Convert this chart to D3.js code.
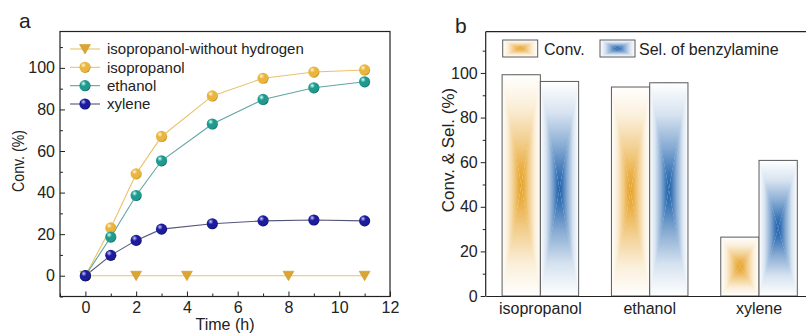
<!DOCTYPE html>
<html><head><meta charset="utf-8">
<script src="https://cdn.jsdelivr.net/npm/d3@7"></script>
<style>body{margin:0;background:#fff}svg{display:block;font-family:"Liberation Sans",Arial,sans-serif}</style>
</head><body>
<svg id="c" width="806" height="334"></svg>
<script>
// ---- Panel a data ----
const timesNoH2 = [0, 2, 4, 8, 11];
const convNoH2 = [0, 0, 0, 0, 0];
const times = [0, 1, 2, 3, 5, 7, 9, 11];
const convIsopropanol = [0, 23, 49, 67, 86.5, 95, 98, 99];
const convEthanol = [0, 18.6, 38.6, 55.3, 73, 84.8, 90.4, 93.3];
const convXylene = [0, 9.8, 17, 22.4, 25, 26.4, 26.8, 26.4];
const seriesNamesA = ["isopropanol-without hydrogen", "isopropanol", "ethanol", "xylene"];
const xTicksA = [0, 2, 4, 6, 8, 10, 12];
const yTicksA = [0, 20, 40, 60, 80, 100];
// ---- Panel b data ----
const solvents = ["isopropanol", "ethanol", "xylene"];
const convB = [99.2, 93.7, 26.4];
const selB = [96.2, 95.6, 60.8];
const seriesNamesB = ["Conv.", "Sel. of benzylamine"];
const yTicksB = [0, 20, 40, 60, 80, 100];

const svg = d3.select("#c");
const defs = svg.append("defs");
const txt = "#222";

// sphere gradients
const sphereCols = {gold: ["#fff6d8", "#e9b53e", "#b07c10"], teal: ["#d8fff6", "#1f9a8e", "#0a5a52"], navy: ["#c8c8ff", "#1c1c9c", "#06064a"]};
Object.entries(sphereCols).forEach(([k, c]) => {
  const g = defs.append("radialGradient").attr("id", "sph-" + k).attr("cx", 0.38).attr("cy", 0.35).attr("r", 0.7).attr("fx", 0.35).attr("fy", 0.3);
  g.append("stop").attr("offset", 0).attr("stop-color", c[0]);
  g.append("stop").attr("offset", 0.35).attr("stop-color", c[1]);
  g.append("stop").attr("offset", 0.8).attr("stop-color", c[1]);
  g.append("stop").attr("offset", 1).attr("stop-color", c[2]);
});

// box gradients for bars
const ramp = [[0, 0], [0.3, 0.18], [0.6, 0.52], [0.85, 0.85], [1, 1]];
const barCols = {orange: "#e6a124", blue: "#1b5fab"};
Object.entries(barCols).forEach(([k, col]) => {
  const h = defs.append("linearGradient").attr("id", "h-" + k).attr("x1", 0).attr("x2", 1).attr("y1", 0).attr("y2", 0);
  ramp.forEach(([t, o]) => h.append("stop").attr("offset", t / 2).attr("stop-color", col).attr("stop-opacity", o));
  ramp.slice().reverse().forEach(([t, o]) => h.append("stop").attr("offset", 1 - t / 2).attr("stop-color", col).attr("stop-opacity", o));
  const vt = defs.append("linearGradient").attr("id", "vt-" + k).attr("x1", 0).attr("x2", 0).attr("y1", 0).attr("y2", 1);
  ramp.forEach(([t, o]) => vt.append("stop").attr("offset", t).attr("stop-color", col).attr("stop-opacity", o));
  const vb = defs.append("linearGradient").attr("id", "vb-" + k).attr("x1", 0).attr("x2", 0).attr("y1", 1).attr("y2", 0);
  ramp.forEach(([t, o]) => vb.append("stop").attr("offset", t).attr("stop-color", col).attr("stop-opacity", o));
});

function boxBar(g, x, y, w, h, k) {
  const cx = x + w / 2, cy = y + h / 2;
  g.append("rect").attr("x", x).attr("y", y).attr("width", w).attr("height", h).attr("fill", "#fff");
  g.append("rect").attr("x", x).attr("y", y).attr("width", w).attr("height", h).attr("fill", `url(#h-${k})`);
  g.append("polygon").attr("points", `${x},${y} ${x + w},${y} ${cx},${cy}`).attr("fill", "#fff");
  g.append("polygon").attr("points", `${x},${y} ${x + w},${y} ${cx},${cy}`).attr("fill", `url(#vt-${k})`);
  g.append("polygon").attr("points", `${x},${y + h} ${x + w},${y + h} ${cx},${cy}`).attr("fill", "#fff");
  g.append("polygon").attr("points", `${x},${y + h} ${x + w},${y + h} ${cx},${cy}`).attr("fill", `url(#vb-${k})`);
  g.append("rect").attr("x", x).attr("y", y).attr("width", w).attr("height", h).attr("fill", "none").attr("stroke", "#5a5a5a").attr("stroke-width", 1);
}

// ================= Panel a =================
const xA = d3.scaleLinear().domain([-1, 12]).range([60, 390]);
const yA = d3.scaleLinear().domain([-10, 117.5]).range([296.5, 31.5]);
const gA = svg.append("g");

const xAxisA = d3.axisBottom(xA).tickValues(xTicksA).tickSize(-5).tickPadding(5).tickFormat(d3.format("d"));
gA.append("g").attr("transform", `translate(0,${yA(-10)})`).call(xAxisA)
  .call(g => g.select(".domain").remove())
  .call(g => g.selectAll("text").attr("font-size", 16).attr("fill", txt).attr("font-family", "Liberation Sans, Arial"))
  .call(g => g.selectAll("line").attr("stroke", "#222"));
gA.append("g").attr("transform", `translate(0,${yA(-10)})`).call(d3.axisBottom(xA).tickValues(d3.range(-1, 12, 2)).tickSize(-3).tickFormat(""))
  .call(g => g.select(".domain").remove()).call(g => g.selectAll("line").attr("stroke", "#222"));
const yAxisA = d3.axisLeft(yA).tickValues(yTicksA).tickSize(-5).tickPadding(5);
gA.append("g").attr("transform", `translate(${xA(-1)},0)`).call(yAxisA)
  .call(g => g.select(".domain").remove())
  .call(g => g.selectAll("text").attr("font-size", 16).attr("fill", txt).attr("font-family", "Liberation Sans, Arial"))
  .call(g => g.selectAll("line").attr("stroke", "#222"));
gA.append("g").attr("transform", `translate(${xA(-1)},0)`).call(d3.axisLeft(yA).tickValues([-10, 10, 30, 50, 70, 90, 110]).tickSize(-3).tickFormat(""))
  .call(g => g.select(".domain").remove()).call(g => g.selectAll("line").attr("stroke", "#222"));
gA.append("rect").attr("x", xA(-1)).attr("y", yA(117.5)).attr("width", xA(12) - xA(-1)).attr("height", yA(-10) - yA(117.5))
  .attr("fill", "none").attr("stroke", "#222").attr("stroke-width", 1.2);

const line = d3.line().x(d => xA(d[0])).y(d => yA(d[1]));
const seriesA = [
  {name: seriesNamesA[0], xs: timesNoH2, ys: convNoH2, line: "#e8c46a", marker: "tri"},
  {name: seriesNamesA[1], xs: times, ys: convIsopropanol, line: "#e9c36a", marker: "gold"},
  {name: seriesNamesA[2], xs: times, ys: convEthanol, line: "#5fa5a2", marker: "teal"},
  {name: seriesNamesA[3], xs: times, ys: convXylene, line: "#55557a", marker: "navy"}
];
const triPath = "M-5.5,-4.5 L5.5,-4.5 L0,5 Z";
function drawMarker(g, x, y, m) {
  if (m === "tri") g.append("path").attr("d", triPath).attr("transform", `translate(${x},${y})`).attr("fill", "#dba534").attr("stroke", "#c99020").attr("stroke-width", 0.5);
  else g.append("circle").attr("cx", x).attr("cy", y).attr("r", 5.6).attr("fill", `url(#sph-${m})`);
}
seriesA.forEach(s => {
  const pts = s.xs.map((x, i) => [x, s.ys[i]]);
  gA.append("path").datum(pts).attr("d", line).attr("fill", "none").attr("stroke", s.line).attr("stroke-width", 1.1);
});
seriesA.forEach(s => {
  s.xs.forEach((x, i) => drawMarker(gA, xA(x), yA(s.ys[i]), s.marker));
});
// legend a
const legY = d3.scaleLinear().domain([0, 3]).range([49, 104]);
seriesA.forEach((s, i) => {
  const y = legY(i);
  gA.append("line").attr("x1", 70).attr("x2", 100).attr("y1", y).attr("y2", y).attr("stroke", s.line).attr("stroke-width", 1.1);
  drawMarker(gA, 85, y, s.marker);
  gA.append("text").attr("x", 107).attr("y", y + 5.3).attr("font-size", 15).attr("fill", txt).text(s.name);
});
gA.append("text").attr("x", 19).attr("y", 28).attr("font-size", 21).attr("fill", txt).text("a");
gA.append("text").attr("transform", `translate(23.5,161) rotate(-90)`).attr("text-anchor", "middle").attr("font-size", 16)
  .attr("textLength", 62).attr("lengthAdjust", "spacingAndGlyphs").attr("fill", txt).text("Conv. (%)");
gA.append("text").attr("x", 225).attr("y", 330).attr("text-anchor", "middle").attr("font-size", 16).attr("fill", txt).text("Time (h)");

// ================= Panel b =================
const xB = d3.scaleBand().domain(solvents).range([485.7, 813.7]).paddingInner(0.3).paddingOuter(0.15);
const xSub = d3.scaleBand().domain([0, 1]).range([0, xB.bandwidth()]);
const yB = d3.scaleLinear().domain([0, 118.5]).range([296, 31.7]);
const gB = svg.append("g");
solvents.forEach((s, i) => {
  boxBar(gB, xB(s) + xSub(0), yB(convB[i]), xSub.bandwidth(), yB(0) - yB(convB[i]), "orange");
  boxBar(gB, xB(s) + xSub(1), yB(selB[i]), xSub.bandwidth(), yB(0) - yB(selB[i]), "blue");
});
gB.append("g").attr("transform", `translate(0,${yB(0)})`).call(d3.axisBottom(xB).tickSize(0).tickPadding(7))
  .call(g => g.select(".domain").attr("stroke", "#222").attr("stroke-width", 1.2))
  .call(g => g.selectAll("text").attr("font-size", 16).attr("fill", txt).attr("font-family", "Liberation Sans, Arial"));
gB.append("g").attr("transform", `translate(${485.7},0)`).call(d3.axisLeft(yB).tickValues(yTicksB).tickSize(5).tickPadding(3))
  .call(g => g.select(".domain").remove())
  .call(g => g.selectAll("text").attr("font-size", 16).attr("fill", txt).attr("font-family", "Liberation Sans, Arial"))
  .call(g => g.selectAll("line").attr("stroke", "#222"));
gB.append("g").attr("transform", `translate(${485.7},0)`).call(d3.axisLeft(yB).tickValues([10, 30, 50, 70, 90, 110]).tickSize(3).tickFormat(""))
  .call(g => g.select(".domain").remove()).call(g => g.selectAll("line").attr("stroke", "#222"));
gB.append("line").attr("x1", 485.7).attr("x2", 485.7).attr("y1", yB(118.5)).attr("y2", yB(0)).attr("stroke", "#222").attr("stroke-width", 1.2);
gB.append("line").attr("x1", 485.7).attr("x2", 806).attr("y1", yB(118.5)).attr("y2", yB(118.5)).attr("stroke", "#222").attr("stroke-width", 1.2);
// legend b
const legB = [{x: 502.7, k: "orange", tx: 544}, {x: 600, k: "blue", tx: 639}];
legB.forEach((l, i) => {
  boxBar(gB, l.x, 40, 35, 17, l.k);
  gB.append("text").attr("x", l.tx).attr("y", 55).attr("font-size", 16).attr("fill", txt).text(seriesNamesB[i]);
});
gB.append("text").attr("x", 455).attr("y", 33).attr("font-size", 21).attr("fill", txt).text("b");
gB.append("text").attr("transform", `translate(454,150) rotate(-90)`).attr("text-anchor", "middle").attr("font-size", 17).attr("fill", txt).text("Conv. & Sel. (%)");
</script>
</body></html>
